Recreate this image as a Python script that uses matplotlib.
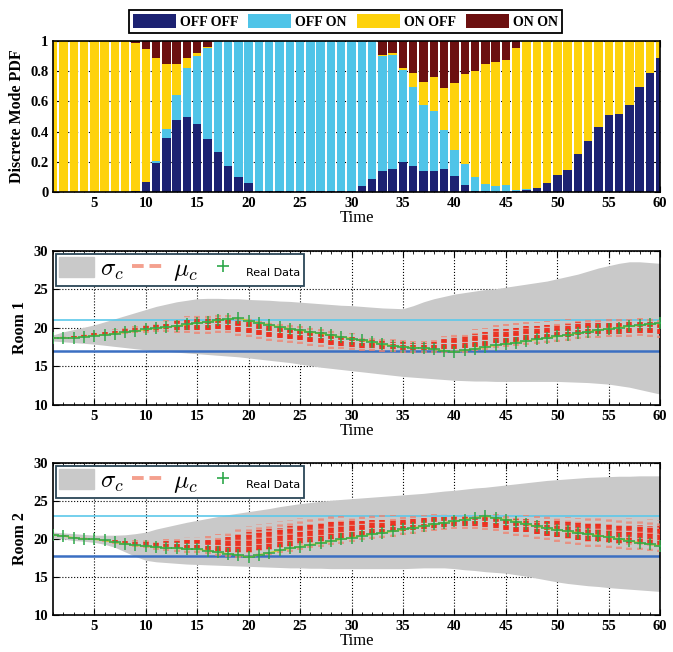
import numpy as np
import matplotlib
matplotlib.use('Agg')
import matplotlib.pyplot as plt
from matplotlib.patches import Patch
from matplotlib.lines import Line2D

plt.rcParams['font.family'] = ['Liberation Serif', 'DejaVu Serif']
plt.rcParams['mathtext.fontset'] = 'cm'

# ---- datos ----
t = list(range(1, 61))

mode_labels = ['OFF OFF', 'OFF ON', 'ON OFF', 'ON ON']
mode_colors = ['#1c2272', '#4fc4e8', '#fed20c', '#6c1010']

off_off = [0, 0, 0, 0, 0, 0, 0, 0, 0.01, 0.065, 0.195, 0.36, 0.48, 0.50, 0.45, 0.35, 0.262, 0.17, 0.10, 0.063,
           0.01, 0.01, 0.008, 0.005, 0.004, 0.004, 0.005, 0.008, 0.01, 0.01, 0.04, 0.086, 0.138, 0.15, 0.197,
           0.175, 0.14, 0.14, 0.153, 0.103, 0.045, 0.01, 0.005, 0.003, 0.003, 0.005, 0.015, 0.025, 0.062, 0.11,
           0.145, 0.253, 0.34, 0.43, 0.51, 0.515, 0.576, 0.693, 0.79, 0.885]
off_on = [0, 0, 0, 0, 0, 0, 0, 0, 0, 0, 0.01, 0.058, 0.165, 0.32, 0.45, 0.605, 0.738, 0.83, 0.90, 0.937,
          0.99, 0.99, 0.992, 0.995, 0.996, 0.996, 0.995, 0.992, 0.99, 0.99, 0.96, 0.914, 0.762, 0.757, 0.613,
          0.522, 0.436, 0.398, 0.26, 0.177, 0.141, 0.087, 0.045, 0.035, 0.044, 0.01, 0.002, 0, 0, 0,
          0, 0, 0, 0, 0, 0, 0, 0, 0, 0]
on_off = [1, 1, 1, 1, 1, 1, 1, 1, 0.98, 0.88, 0.68, 0.429, 0.202, 0.065, 0.02, 0.005, 0, 0, 0, 0,
          0, 0, 0, 0, 0, 0, 0, 0, 0, 0, 0, 0, 0.005, 0.013, 0.014, 0.093, 0.154, 0.222, 0.277, 0.445,
          0.599, 0.703, 0.796, 0.822, 0.827, 0.941, 0.983, 0.975, 0.938, 0.89, 0.855, 0.747, 0.66, 0.57,
          0.49, 0.485, 0.424, 0.307, 0.21, 0.115]
on_on = [0, 0, 0, 0, 0, 0, 0, 0, 0.01, 0.055, 0.115, 0.153, 0.153, 0.115, 0.08, 0.04, 0, 0, 0, 0,
         0, 0, 0, 0, 0, 0, 0, 0, 0, 0, 0, 0, 0.095, 0.08, 0.176, 0.21, 0.27, 0.24, 0.31, 0.275,
         0.215, 0.20, 0.154, 0.14, 0.126, 0.044, 0, 0, 0, 0, 0, 0, 0, 0, 0, 0, 0, 0, 0, 0]

# cuarto 1
r1_real = [18.7, 18.7, 18.7, 18.85, 19.0, 19.1, 19.25, 19.45, 19.6, 19.8, 19.95, 20.1, 20.25, 20.45, 20.65,
           20.8, 21.0, 21.15, 21.3, 20.95, 20.65, 20.4, 20.15, 19.9, 19.7, 19.45, 19.3, 19.05, 18.85, 18.6,
           18.4, 18.2, 17.85, 17.7, 17.55, 17.45, 17.4, 17.2, 17.05, 16.9, 17.1, 17.3, 17.5, 17.75, 17.95,
           18.1, 18.3, 18.5, 18.7, 18.9, 19.1, 19.3, 19.5, 19.75, 19.9, 20.05, 20.2, 20.35, 20.5, 20.6]
r1_upper = [19.1, 19.5, 19.8, 20.1, 20.4, 20.8, 21.2, 21.6, 22.0, 22.4, 22.8, 23.1, 23.4, 23.6, 23.8,
            23.85, 23.85, 23.8, 23.8, 23.7, 23.65, 23.6, 23.5, 23.45, 23.35, 23.25, 23.15, 23.05, 22.95, 22.9,
            22.8, 22.7, 22.6, 22.55, 22.5, 22.9, 23.4, 23.8, 24.1, 24.4, 24.6, 24.8, 25.0, 25.1, 25.3,
            25.5, 25.7, 25.9, 26.1, 26.4, 26.7, 27.0, 27.4, 27.8, 28.1, 28.4, 28.6, 28.6, 28.5, 28.4]
r1_lower = [18.3, 18.2, 18.1, 18.0, 17.9, 17.75, 17.6, 17.45, 17.3, 17.15, 17.05, 16.95, 16.85, 16.75, 16.65,
            16.55, 16.45, 16.35, 16.25, 16.1, 15.95, 15.8, 15.65, 15.5, 15.3, 15.1, 14.9, 14.75, 14.6, 14.45,
            14.3, 14.15, 14.0, 13.85, 13.7, 13.6, 13.5, 13.4, 13.3, 13.2, 13.15, 13.1, 13.1, 13.05, 13.05,
            13.05, 13.05, 13.05, 13.05, 13.05, 13.0, 12.95, 12.9, 12.8, 12.7, 12.5, 12.3, 12.0, 11.7, 11.4]
r1_mu_lo = [18.6, 18.6, 18.7, 18.8, 18.9, 19.0, 19.1, 19.2, 19.3, 19.4, 19.5, 19.5, 19.4, 19.3, 19.2,
            19.2, 19.3, 19.3, 19.0, 18.8, 18.5, 18.3, 18.2, 18.0, 17.9, 17.7, 17.5, 17.3, 17.2, 17.1,
            17.0, 17.0, 16.9, 16.9, 16.8, 16.8, 16.8, 16.8, 16.8, 16.7, 16.8, 17.0, 17.1, 17.4, 17.5,
            17.6, 17.8, 17.9, 18.0, 18.2, 18.3, 18.6, 18.7, 18.7, 18.8, 18.8, 18.8, 18.9, 18.8, 18.7]
r1_mu_hi = [18.8, 18.9, 19.0, 19.2, 19.4, 19.6, 19.8, 20.0, 20.2, 20.4, 20.8, 21.0, 21.2, 21.5, 21.8,
            21.8, 21.8, 21.7, 21.6, 21.4, 21.1, 21.0, 20.8, 20.6, 20.3, 20.1, 19.9, 19.7, 19.4, 19.3,
            19.0, 18.8, 18.6, 18.5, 18.5, 18.3, 18.3, 18.5, 19.0, 19.3, 19.5, 19.8, 20.0, 20.4, 20.5,
            20.6, 20.8, 20.8, 20.9, 21.0, 21.1, 21.3, 21.3, 21.2, 21.1, 21.1, 21.2, 21.3, 21.3, 21.2]
r1_limits = [21.0, 17.0]

# cuarto 2
r2_real = [20.5, 20.4, 20.15, 20.0, 19.95, 19.8, 19.55, 19.35, 19.15, 19.05, 18.9, 18.85, 18.75, 18.7, 18.65,
           18.45, 18.25, 18.05, 17.9, 17.6, 17.9, 18.2, 18.5, 18.75, 19.0, 19.25, 19.45, 19.7, 19.95, 20.15,
           20.4, 20.6, 20.8, 21.0, 21.25, 21.45, 21.7, 21.95, 22.15, 22.35, 22.55, 22.8, 23.0, 22.75, 22.55,
           22.25, 21.95, 21.65, 21.4, 21.2, 21.0, 20.85, 20.65, 20.45, 20.25, 20.0, 19.75, 19.5, 19.3, 19.1]
r2_upper = [20.9, 20.8, 20.7, 20.6, 20.5, 20.5, 20.5, 20.55, 20.7, 20.9, 21.3, 21.6, 21.9, 22.2, 22.45,
            22.7, 22.95, 23.2, 23.4, 23.6, 23.8, 24.0, 24.25, 24.45, 24.65, 24.8, 24.95, 25.1, 25.2, 25.3,
            25.4, 25.5, 25.6, 25.7, 25.8, 25.9, 26.0, 26.15, 26.3, 26.4, 26.55, 26.7, 26.8, 26.95, 27.1,
            27.25, 27.4, 27.55, 27.7, 27.8, 27.9, 28.0, 28.1, 28.15, 28.2, 28.25, 28.25, 28.3, 28.3, 28.3]
r2_lower = [20.1, 20.0, 19.8, 19.7, 19.55, 19.3, 18.9, 18.3, 17.7, 17.2, 17.0, 16.9, 16.8, 16.7, 16.65,
            16.6, 16.55, 16.5, 16.45, 16.4, 16.35, 16.3, 16.25, 16.2, 16.2, 16.15, 16.15, 16.1, 16.1, 16.1,
            16.1, 16.1, 16.1, 16.1, 16.1, 16.15, 16.2, 16.2, 16.2, 16.1, 15.95, 15.85, 15.7, 15.6, 15.5,
            15.3, 15.1, 14.85, 14.6, 14.35, 14.15, 14.0, 13.85, 13.75, 13.6, 13.5, 13.4, 13.3, 13.2, 13.1]
r2_mu_lo = [20.4, 20.3, 20.1, 19.9, 19.8, 19.6, 19.4, 19.2, 19.0, 18.8, 18.6, 18.4, 18.3, 18.2, 18.1,
            18.0, 17.8, 17.6, 17.5, 17.5, 17.7, 17.9, 18.1, 18.3, 18.6, 18.8, 19.0, 19.2, 19.4, 19.6,
            19.8, 20.0, 20.1, 20.3, 20.5, 20.7, 20.9, 21.0, 21.2, 21.3, 21.3, 21.3, 21.2, 21.0, 20.7,
            20.4, 20.3, 20.0, 19.8, 19.6, 19.4, 19.2, 19.0, 19.0, 18.8, 18.7, 18.6, 18.5, 18.4, 18.3]
r2_mu_hi = [20.6, 20.5, 20.3, 20.2, 20.1, 20.0, 19.9, 19.8, 19.8, 19.8, 19.9, 20.0, 20.1, 20.2, 20.3,
            20.4, 20.6, 21.0, 21.4, 21.7, 22.0, 22.1, 22.3, 22.5, 22.7, 22.8, 22.9, 23.0, 23.0, 23.0,
            23.0, 23.1, 23.1, 23.1, 23.1, 23.1, 23.2, 23.3, 23.3, 23.3, 23.3, 23.3, 23.3, 23.3, 23.3,
            23.2, 23.2, 23.0, 23.0, 23.0, 22.9, 22.8, 22.8, 22.8, 22.7, 22.7, 22.7, 22.6, 22.6, 22.5]
r2_limits = [23.0, 17.8]

xticks = [5, 10, 15, 20, 25, 30, 35, 40, 45, 50, 55, 60]
tick_font = {'family': ['Liberation Serif', 'DejaVu Serif'], 'weight': 'bold', 'size': 10.5}


def style_axes(ax):
    ax.set_xlim(1, 60)
    ax.set_xticks(xticks)
    ax.set_xticks(t, minor=True)
    ax.tick_params(which='both', direction='in', top=True, right=True)
    ax.tick_params(which='major', length=4)
    ax.tick_params(which='minor', length=2, left=False, right=False)
    for lab in ax.get_xticklabels() + ax.get_yticklabels():
        lab.set_fontproperties(tick_font)
    ax.set_xlabel('Time', fontsize=12, labelpad=0)
    for s in ax.spines.values():
        s.set_linewidth(1.2)


# barras apiladas de los modos
def draw_modes(ax):
    bottom = np.zeros(len(t))
    handles = []
    for vals, col, lab in zip([off_off, off_on, on_off, on_on], mode_colors, mode_labels):
        b = ax.bar(t, vals, width=0.82, bottom=bottom, color=col, label=lab, zorder=2)
        bottom = bottom + np.array(vals)
        handles.append(b)
    ax.set_ylim(0, 1)
    ax.set_yticks([0, 0.2, 0.4, 0.6, 0.8, 1])
    ax.set_yticklabels(['0', '0.2', '0.4', '0.6', '0.8', '1'])
    ax.grid(True, linestyle=':', color='black', linewidth=0.8)
    ax.set_axisbelow(True)
    ax.set_ylabel('Discrete Mode PDF', fontsize=11.5, fontweight='bold')
    style_axes(ax)
    return handles


# temperatura de un cuarto
def draw_room(ax, real, upper, lower, mu_lo, mu_hi, limits, name):
    ax.fill_between(t, lower, upper, color='#c9c9c9', linewidth=0, zorder=1)
    ax.axhline(limits[0], color='#5cc8ea', linewidth=1.2, zorder=2)
    ax.axhline(limits[1], color='#3b6fc2', linewidth=1.8, zorder=2)
    lo = np.array(mu_lo)
    hi = np.array(mu_hi)
    span = hi - lo
    ax.vlines(t, lo, hi, color='#f2806c', linewidth=4.2, alpha=0.75,
              linestyles=[(0, (0.4, 0.5))], zorder=3)
    ax.vlines(t, lo + 0.2 * span, hi - 0.2 * span, color='#ee2614', linewidth=4, alpha=0.9,
              linestyles=[(0, (0.9, 0.2))], zorder=3)
    ax.plot(t, real, color='#c3cc2c', linewidth=1, zorder=4)
    ax.plot(t, real, linestyle='none', marker='+', color='#2ea84a', markersize=8.5, mew=1.1, zorder=5)
    ax.set_ylim(10, 30)
    ax.set_yticks([10, 15, 20, 25, 30])
    ax.grid(True, linestyle=':', color='black', linewidth=0.8)
    ax.set_axisbelow(True)
    ax.set_ylabel(name, fontsize=11.5, fontweight='bold')
    style_axes(ax)

    h = [Patch(color='#c9c9c9'),
         Line2D([0], [0], color='#f4a08e', linewidth=2.8, linestyle=(0, (3, 1.5))),
         Line2D([0], [0], linestyle='none', marker='+', color='#2ea84a', markersize=8, mew=1.2)]
    leg = ax.legend(h, [r'$\sigma_c$', r'$\mu_c$', 'Real Data'],
                    loc='upper left', ncol=3, bbox_to_anchor=(0.0, 1.0), borderaxespad=0.12,
                    fontsize=18, handlelength=1.4, handleheight=0.85, columnspacing=0.3,
                    handletextpad=0.25, borderpad=0.12, fancybox=False, framealpha=1)
    leg.get_frame().set_edgecolor('#2b4657')
    leg.get_frame().set_linewidth(1.3)
    leg.get_texts()[2].set_fontsize(8)
    leg.get_texts()[2].set_family(['DejaVu Sans'])
    leg.set_zorder(10)


fig = plt.figure(figsize=(6.73, 6.52), dpi=100)
ax1 = fig.add_axes([0.079, 0.7055, 0.902, 0.2315])
ax2 = fig.add_axes([0.079, 0.379, 0.902, 0.236])
ax3 = fig.add_axes([0.079, 0.0567, 0.902, 0.2333])

bars = draw_modes(ax1)
draw_room(ax2, r1_real, r1_upper, r1_lower, r1_mu_lo, r1_mu_hi, r1_limits, 'Room 1')
draw_room(ax3, r2_real, r2_upper, r2_lower, r2_mu_lo, r2_mu_hi, r2_limits, 'Room 2')

leg = fig.legend(bars, mode_labels, loc='upper center', bbox_to_anchor=(0.513, 0.995), ncol=4,
                 prop={'family': ['Liberation Serif'], 'weight': 'bold', 'size': 10},
                 handlelength=3.1, handleheight=1.1, columnspacing=0.7, handletextpad=0.3,
                 borderpad=0.3, fancybox=False, edgecolor='black', framealpha=1)
leg.get_frame().set_linewidth(1.3)

fig.savefig('out.png', dpi=100)
